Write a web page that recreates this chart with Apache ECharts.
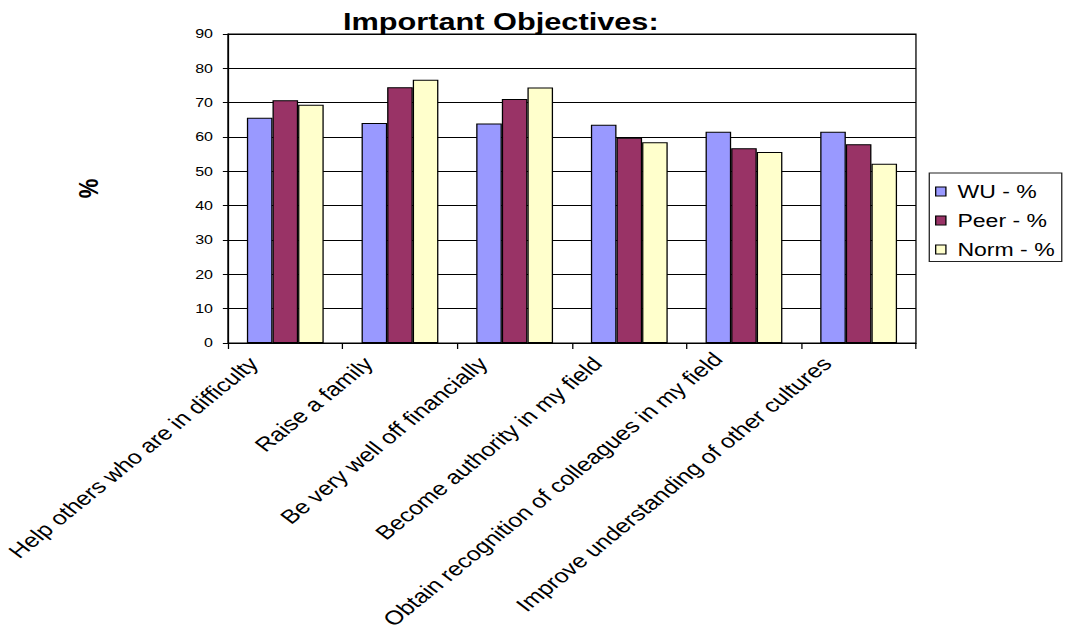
<!DOCTYPE html>
<html>
<head>
<meta charset="utf-8">
<script src="https://cdn.jsdelivr.net/npm/echarts@6/dist/echarts.min.js"></script>
<style>
html,body{margin:0;padding:0;background:#fff;overflow:hidden;}
#main{width:832px;height:631px;transform:scaleX(1.28);transform-origin:0 0;}
</style>
</head>
<body>
<div id="main"></div>
<script>
var categories = [
  "Help others who are in difficulty",
  "Raise a family",
  "Be very well off financially",
  "Become authority in my field",
  "Obtain recognition of colleagues in my field",
  "Improve understanding of other cultures"
];
var seriesNames = ["WU - %", "Peer - %", "Norm - %"];
var wuValues   = [65.6, 64.1, 63.9, 63.6, 61.5, 61.5];
var peerValues = [70.7, 74.5, 71.1, 59.8, 56.7, 57.9];
var normValues = [69.4, 76.7, 74.4, 58.5, 55.6, 52.2];
var yTicks = { min: 0, max: 90, interval: 10 };
var colors = ["#9999FF", "#993366", "#FFFFCC"];
var FONT = "'Liberation Sans', Arial, sans-serif";

var chart = echarts.init(document.getElementById('main'), null, { renderer: 'svg' });
function barSeries(name, data, color) {
  return {
    name: name, type: 'bar', data: data,
    barGap: '0%', barCategoryGap: '33%',
    itemStyle: { color: color, borderColor: '#000', borderWidth: 1 },
    emphasis: { disabled: true }
  };
}
chart.setOption({
  animation: false,
  backgroundColor: '#fff',
  textStyle: { fontFamily: FONT, color: '#000' },
  title: {
    text: 'Important Objectives:',
    left: 263, top: 5,
    textStyle: { fontFamily: FONT, fontSize: 24, fontWeight: 'bold', color: '#000' }
  },
  legend: {
    orient: 'vertical',
    left: 726, top: 173,
    padding: [9.4, 5.5, 3, 4.5],
    itemGap: 11,
    itemWidth: 8, itemHeight: 9,
    borderColor: '#222', borderWidth: 1,
    icon: 'rect',
    itemStyle: { borderColor: '#000', borderWidth: 1 },
    textStyle: { fontFamily: FONT, fontSize: 18, color: '#000', padding: [0, 0, 0, 4] },
    data: seriesNames
  },
  grid: {
    left: 178.1, right: 116.4, top: 34, bottom: 288,
    show: true, borderColor: '#000', borderWidth: 1,
    outerBoundsMode: 'none'
  },
  xAxis: {
    type: 'category',
    data: categories,
    axisLine: { lineStyle: { color: '#000', width: 1 } },
    axisTick: { show: true, length: 6, lineStyle: { color: '#000' } },
    axisLabel: {
      interval: 0, rotate: 46, margin: -8,
      fontFamily: FONT, fontSize: 19.5, color: '#000',
      formatter: function (v, i) { return '{' + (i === 4 ? 'b' : 'a') + '|' + v + '}'; },
      rich: {
        a: { fontFamily: FONT, fontSize: 19.5, color: '#000', padding: [0, 35.5, 0, 0] },
        b: { fontFamily: FONT, fontSize: 19.5, color: '#000', padding: [0, 29, 0, 0] }
      }
    }
  },
  yAxis: {
    type: 'value',
    min: yTicks.min, max: yTicks.max, interval: yTicks.interval,
    name: '%', nameLocation: 'middle', nameGap: 98.4,
    nameTextStyle: { fontFamily: FONT, fontSize: 22, fontWeight: 'bold', color: '#000' },
    axisLine: { show: true, lineStyle: { color: '#000', width: 1 } },
    axisTick: { show: true, length: 4, lineStyle: { color: '#000' } },
    axisLabel: { margin: 11.7, fontFamily: FONT, fontSize: 12.5, color: '#000' },
    splitLine: { show: true, lineStyle: { color: '#000', width: 1 } }
  },
  series: [
    barSeries(seriesNames[0], wuValues, colors[0]),
    barSeries(seriesNames[1], peerValues, colors[1]),
    barSeries(seriesNames[2], normValues, colors[2])
  ]
});
</script>
</body>
</html>
